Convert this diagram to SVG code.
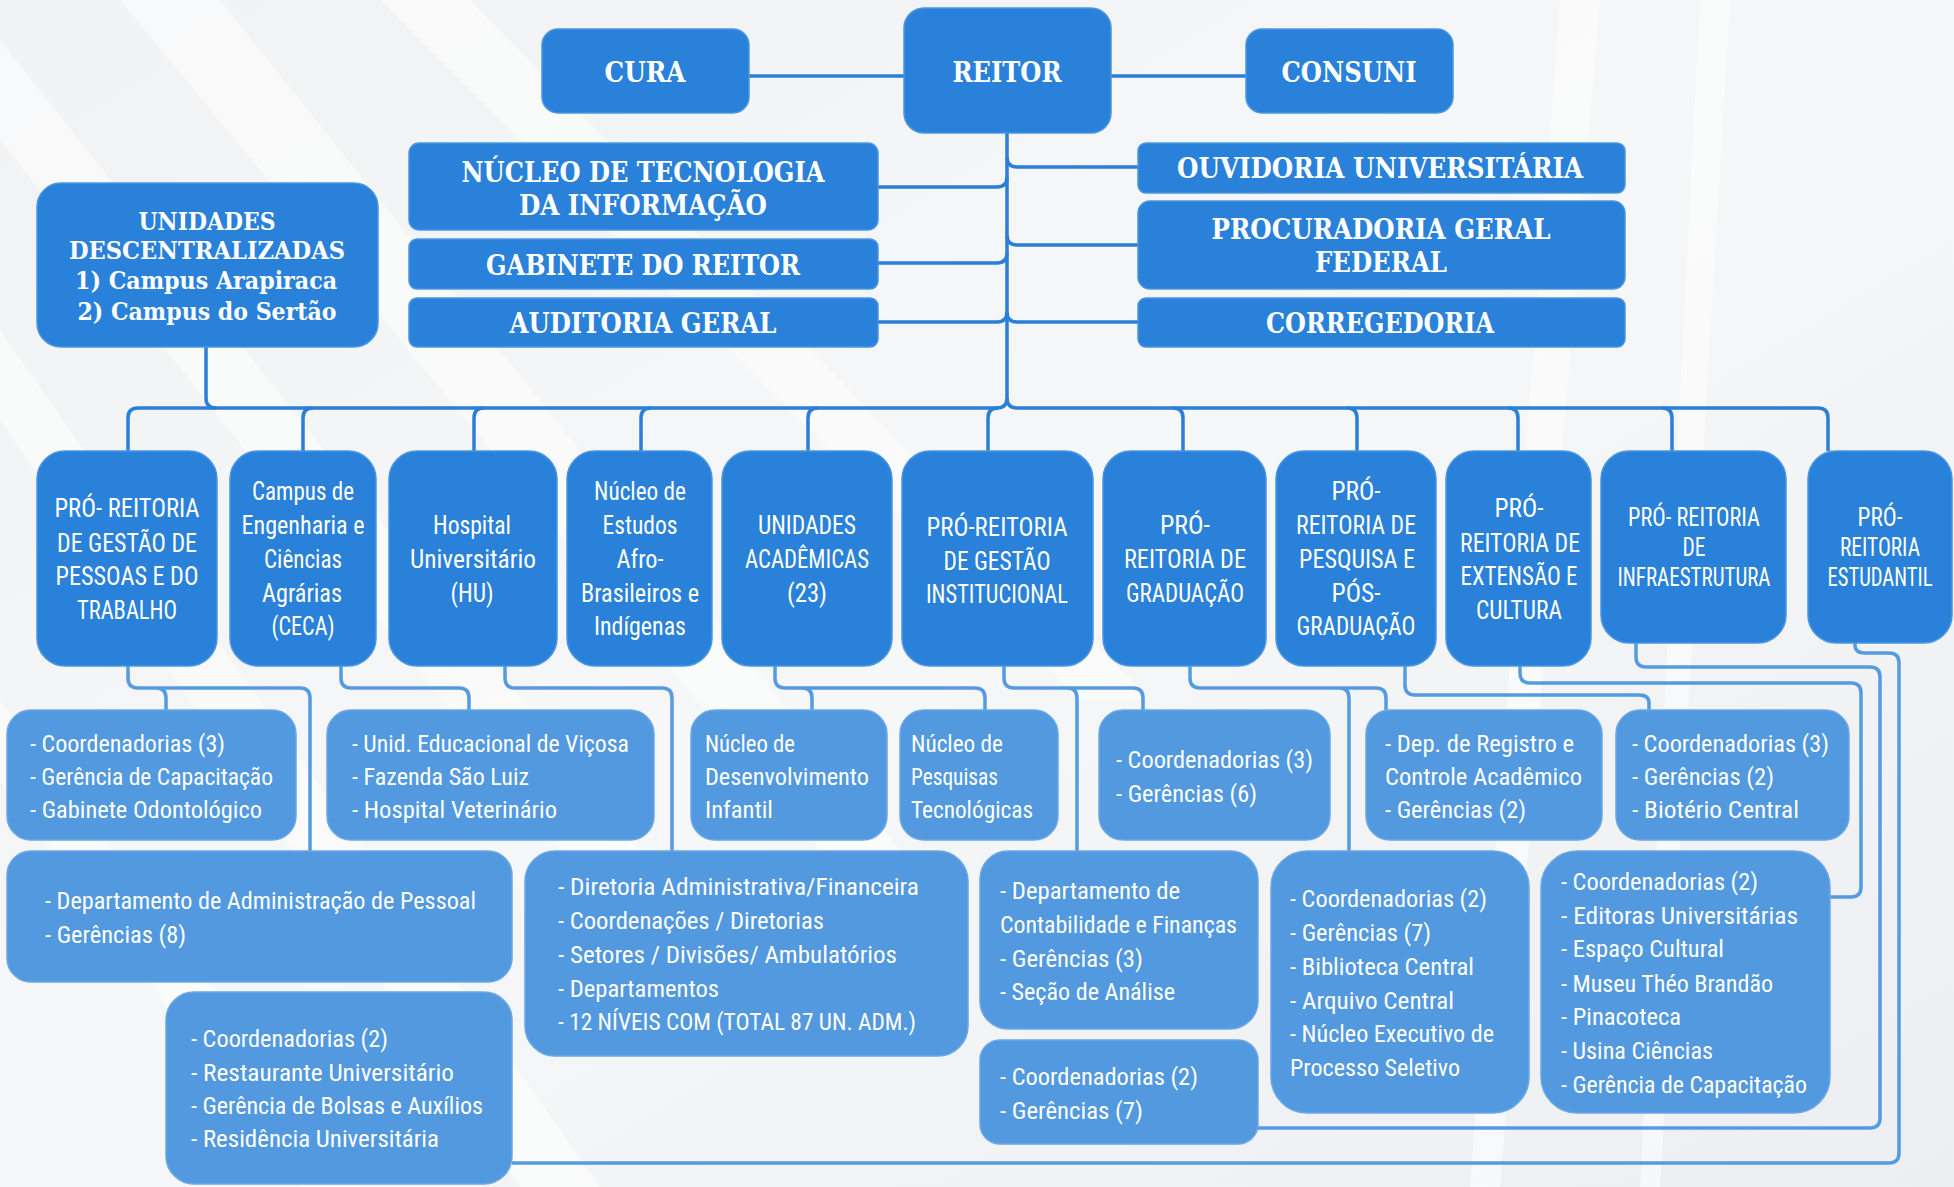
<svg xmlns="http://www.w3.org/2000/svg" width="1954" height="1187" viewBox="0 0 1954 1187">
<defs>
<linearGradient id="bg" x1="0" y1="0" x2="1" y2="1">
<stop offset="0" stop-color="#f1f2f4"/>
<stop offset="0.5" stop-color="#f6f7f8"/>
<stop offset="1" stop-color="#eceef1"/>
</linearGradient>
<style>
.d{fill:#2a81d9;stroke:#4a96e2;stroke-width:1.5}
.l{fill:#5299e0;stroke:#6aa8e6;stroke-width:1.5}
.c1{fill:none;stroke:#2a7fd6;stroke-width:3.5;stroke-linejoin:round}
.c2{fill:none;stroke:#549be1;stroke-width:3.5;stroke-linejoin:round}
.t{font-family:"DejaVu Serif Condensed","DejaVu Serif","Liberation Serif",serif;font-weight:bold;font-size:28px;fill:#fff;text-anchor:middle}
.t2{font-family:"DejaVu Serif Condensed","DejaVu Serif","Liberation Serif",serif;font-weight:bold;font-size:25px;fill:#fff;text-anchor:middle}
.s{font-family:"Roboto Condensed","DejaVu Sans Condensed","Liberation Sans Narrow",sans-serif;font-size:25px;fill:#fff;text-anchor:middle}
.m{font-family:"Roboto Condensed","DejaVu Sans Condensed","Liberation Sans Narrow",sans-serif;font-size:24px;fill:#fff}
</style>
</defs>
<rect width="1954" height="1187" fill="url(#bg)"/>
<g fill="#ffffff" opacity="0.55">
<polygon points="0,40 0,140 600,900 680,900"/>
<polygon points="0,330 0,420 520,1187 600,1187"/>
<polygon points="120,0 220,0 900,850 820,850"/>
<polygon points="380,0 470,0 1150,700 1080,700"/>
<polygon points="0,700 0,780 300,1187 360,1187"/>
<polygon points="1560,0 1600,0 1500,1187 1470,1187"/>
<polygon points="1700,0 1730,0 1660,1187 1640,1187"/>
</g>

<g id="connectors">
<path class="c1" d="M749 76H904M1111 76H1246"/>
<path class="c1" d="M1007 133V398Q1007 408 997 408H138Q128 408 128 418V451"/>
<path class="c1" d="M1007 398Q1007 408 1017 408H1818Q1828 408 1828 418V451"/>
<path class="c1" d="M1007 177Q1007 187 997 187H878M1007 253Q1007 263 997 263H878M1007 312Q1007 322 997 322H878"/>
<path class="c1" d="M1007 157Q1007 167 1017 167H1138M1007 235Q1007 245 1017 245H1138M1007 312Q1007 322 1017 322H1138"/>
<path class="c1" d="M206 347V398Q206 408 216 408"/>
<path class="c1" d="M313 408Q303 408 303 418V451M484 408Q474 408 474 418V451M651 408Q641 408 641 418V451M818 408Q808 408 808 418V451M998 408Q988 408 988 418V451"/>
<path class="c1" d="M1173 408Q1183 408 1183 418V451M1347 408Q1357 408 1357 418V451M1508 408Q1518 408 1518 418V451M1662 408Q1672 408 1672 418V451"/>
<path class="c2" d="M128 666V678Q128 688 138 688H300Q310 688 310 698V851M156 688Q166 688 166 698V710"/>
<path class="c2" d="M341 666V678Q341 688 351 688H459Q469 688 469 698V710"/>
<path class="c2" d="M505 666V678Q505 688 515 688H662Q672 688 672 698V851"/>
<path class="c2" d="M775 666V678Q775 688 785 688H975Q985 688 985 698V710M802 688Q812 688 812 698V710"/>
<path class="c2" d="M1004 666V678Q1004 688 1014 688H1133Q1143 688 1143 698V710M1067 688Q1077 688 1077 698V851"/>
<path class="c2" d="M1190 666V678Q1190 688 1200 688H1376Q1386 688 1386 698V710M1339 688Q1349 688 1349 698V851"/>
<path class="c2" d="M1405 666V685Q1405 695 1415 695H1639Q1649 695 1649 703V710"/>
<path class="c2" d="M1520 666V673Q1520 683 1530 683H1851Q1861 683 1861 693V887Q1861 897 1851 897H1830"/>
<path class="c2" d="M1636 643V657Q1636 667 1646 667H1870Q1880 667 1880 677V1118Q1880 1128 1870 1128H1258"/>
<path class="c2" d="M1855 643V645Q1855 653 1865 653H1889Q1899 653 1899 663V1153Q1899 1163 1889 1163H512"/>
</g>

<g id="cura"><rect class="d" x="542" y="29" width="207" height="84" rx="16"/><text class="t" x="645" y="82" textLength="81" lengthAdjust="spacingAndGlyphs">CURA</text></g>
<g id="reitor"><rect class="d" x="904" y="8" width="207" height="125" rx="20"/><text class="t" x="1007" y="82" textLength="109" lengthAdjust="spacingAndGlyphs">REITOR</text></g>
<g id="consuni"><rect class="d" x="1246" y="29" width="207" height="84" rx="16"/><text class="t" x="1349" y="82" textLength="135" lengthAdjust="spacingAndGlyphs">CONSUNI</text></g>
<g id="nti"><rect class="d" x="409" y="143" width="469" height="87" rx="10"/><text class="t" x="643" y="182" textLength="363" lengthAdjust="spacingAndGlyphs">NÚCLEO DE TECNOLOGIA</text><text class="t" x="643" y="215" textLength="248" lengthAdjust="spacingAndGlyphs">DA INFORMAÇÃO</text></g>
<g id="gabinete"><rect class="d" x="409" y="239" width="469" height="50" rx="8"/><text class="t" x="643" y="275" textLength="314" lengthAdjust="spacingAndGlyphs">GABINETE DO REITOR</text></g>
<g id="auditoria"><rect class="d" x="409" y="298" width="469" height="49" rx="8"/><text class="t" x="643" y="333" textLength="267" lengthAdjust="spacingAndGlyphs">AUDITORIA GERAL</text></g>
<g id="unidades-descentralizadas"><rect class="d" x="37" y="183" width="341" height="164" rx="24"/>
<text class="t2" x="207" y="230" textLength="137" lengthAdjust="spacingAndGlyphs">UNIDADES</text>
<text class="t2" x="207" y="259" textLength="276" lengthAdjust="spacingAndGlyphs">DESCENTRALIZADAS</text>
<text class="t2" x="206" y="289" textLength="262" lengthAdjust="spacingAndGlyphs">1) Campus Arapiraca</text>
<text class="t2" x="207" y="320" textLength="259" lengthAdjust="spacingAndGlyphs">2) Campus do Sertão</text></g>
<g id="ouvidoria"><rect class="d" x="1138" y="143" width="487" height="50" rx="8"/><text class="t" x="1380" y="178" textLength="406" lengthAdjust="spacingAndGlyphs">OUVIDORIA UNIVERSITÁRIA</text></g>
<g id="procuradoria"><rect class="d" x="1138" y="201" width="487" height="88" rx="12"/><text class="t" x="1381" y="239" textLength="339" lengthAdjust="spacingAndGlyphs">PROCURADORIA GERAL</text><text class="t" x="1381" y="272" textLength="132" lengthAdjust="spacingAndGlyphs">FEDERAL</text></g>
<g id="corregedoria"><rect class="d" x="1138" y="298" width="487" height="49" rx="8"/><text class="t" x="1380" y="333" textLength="228" lengthAdjust="spacingAndGlyphs">CORREGEDORIA</text></g>

<g id="pro-gestao-pessoas"><rect class="d" x="37" y="451" width="180" height="215" rx="28"/>
<text class="s" x="127" y="517" textLength="145" lengthAdjust="spacingAndGlyphs">PRÓ- REITORIA</text>
<text class="s" x="127" y="552" textLength="140" lengthAdjust="spacingAndGlyphs">DE GESTÃO DE</text>
<text class="s" x="127" y="585" textLength="143" lengthAdjust="spacingAndGlyphs">PESSOAS E DO</text>
<text class="s" x="127" y="619" textLength="100" lengthAdjust="spacingAndGlyphs">TRABALHO</text></g>
<g id="ceca"><rect class="d" x="230" y="451" width="146" height="215" rx="28"/>
<text class="s" x="303" y="500" textLength="102" lengthAdjust="spacingAndGlyphs">Campus de</text>
<text class="s" x="303" y="534" textLength="123" lengthAdjust="spacingAndGlyphs">Engenharia e</text>
<text class="s" x="303" y="568" textLength="78" lengthAdjust="spacingAndGlyphs">Ciências</text>
<text class="s" x="302" y="602" textLength="80" lengthAdjust="spacingAndGlyphs">Agrárias</text>
<text class="s" x="303" y="635" textLength="63" lengthAdjust="spacingAndGlyphs">(CECA)</text></g>
<g id="hospital"><rect class="d" x="389" y="451" width="168" height="215" rx="28"/>
<text class="s" x="472" y="534" textLength="78" lengthAdjust="spacingAndGlyphs">Hospital</text>
<text class="s" x="473" y="568" textLength="126" lengthAdjust="spacingAndGlyphs">Universitário</text>
<text class="s" x="472" y="602" textLength="43" lengthAdjust="spacingAndGlyphs">(HU)</text></g>
<g id="neabi"><rect class="d" x="567" y="451" width="145" height="215" rx="28"/>
<text class="s" x="640" y="500" textLength="92" lengthAdjust="spacingAndGlyphs">Núcleo de</text>
<text class="s" x="640" y="534" textLength="75" lengthAdjust="spacingAndGlyphs">Estudos</text>
<text class="s" x="640" y="568" textLength="47" lengthAdjust="spacingAndGlyphs">Afro-</text>
<text class="s" x="640" y="602" textLength="118" lengthAdjust="spacingAndGlyphs">Brasileiros e</text>
<text class="s" x="640" y="635" textLength="92" lengthAdjust="spacingAndGlyphs">Indígenas</text></g>
<g id="unidades-academicas"><rect class="d" x="722" y="451" width="170" height="215" rx="28"/>
<text class="s" x="807" y="534" textLength="98" lengthAdjust="spacingAndGlyphs">UNIDADES</text>
<text class="s" x="807" y="568" textLength="124" lengthAdjust="spacingAndGlyphs">ACADÊMICAS</text>
<text class="s" x="807" y="602" textLength="40" lengthAdjust="spacingAndGlyphs">(23)</text></g>
<g id="pro-gestao-institucional"><rect class="d" x="902" y="451" width="191" height="215" rx="28"/>
<text class="s" x="997" y="536" textLength="141" lengthAdjust="spacingAndGlyphs">PRÓ-REITORIA</text>
<text class="s" x="997" y="570" textLength="107" lengthAdjust="spacingAndGlyphs">DE GESTÃO</text>
<text class="s" x="997" y="603" textLength="142" lengthAdjust="spacingAndGlyphs">INSTITUCIONAL</text></g>
<g id="pro-graduacao"><rect class="d" x="1103" y="451" width="163" height="215" rx="28"/>
<text class="s" x="1185" y="534" textLength="50" lengthAdjust="spacingAndGlyphs">PRÓ-</text>
<text class="s" x="1185" y="568" textLength="122" lengthAdjust="spacingAndGlyphs">REITORIA DE</text>
<text class="s" x="1185" y="602" textLength="118" lengthAdjust="spacingAndGlyphs">GRADUAÇÃO</text></g>
<g id="pro-pesquisa"><rect class="d" x="1276" y="451" width="160" height="215" rx="28"/>
<text class="s" x="1356" y="500" textLength="49" lengthAdjust="spacingAndGlyphs">PRÓ-</text>
<text class="s" x="1356" y="534" textLength="120" lengthAdjust="spacingAndGlyphs">REITORIA DE</text>
<text class="s" x="1357" y="568" textLength="116" lengthAdjust="spacingAndGlyphs">PESQUISA E</text>
<text class="s" x="1356" y="602" textLength="49" lengthAdjust="spacingAndGlyphs">PÓS-</text>
<text class="s" x="1356" y="635" textLength="119" lengthAdjust="spacingAndGlyphs">GRADUAÇÃO</text></g>
<g id="pro-extensao"><rect class="d" x="1446" y="451" width="145" height="215" rx="28"/>
<text class="s" x="1519" y="517" textLength="49" lengthAdjust="spacingAndGlyphs">PRÓ-</text>
<text class="s" x="1520" y="552" textLength="120" lengthAdjust="spacingAndGlyphs">REITORIA DE</text>
<text class="s" x="1519" y="585" textLength="117" lengthAdjust="spacingAndGlyphs">EXTENSÃO E</text>
<text class="s" x="1519" y="619" textLength="86" lengthAdjust="spacingAndGlyphs">CULTURA</text></g>
<g id="pro-infraestrutura"><rect class="d" x="1601" y="451" width="185" height="192" rx="28"/>
<text class="s" x="1694" y="526" textLength="132" lengthAdjust="spacingAndGlyphs">PRÓ- REITORIA</text>
<text class="s" x="1694" y="556" textLength="23" lengthAdjust="spacingAndGlyphs">DE</text>
<text class="s" x="1694" y="586" textLength="153" lengthAdjust="spacingAndGlyphs">INFRAESTRUTURA</text></g>
<g id="pro-estudantil"><rect class="d" x="1808" y="451" width="144" height="192" rx="28"/>
<text class="s" x="1880" y="526" textLength="45" lengthAdjust="spacingAndGlyphs">PRÓ-</text>
<text class="s" x="1880" y="556" textLength="80" lengthAdjust="spacingAndGlyphs">REITORIA</text>
<text class="s" x="1880" y="586" textLength="105" lengthAdjust="spacingAndGlyphs">ESTUDANTIL</text></g>

<g id="gp-coordenadorias"><rect class="l" x="7" y="710" width="289" height="130" rx="24"/>
<text class="m" x="30" y="752" textLength="195" lengthAdjust="spacingAndGlyphs">- Coordenadorias (3)</text>
<text class="m" x="30" y="785" textLength="243" lengthAdjust="spacingAndGlyphs">- Gerência de Capacitação</text>
<text class="m" x="30" y="818" textLength="232" lengthAdjust="spacingAndGlyphs">- Gabinete Odontológico</text></g>
<g id="ceca-unidades"><rect class="l" x="327" y="710" width="327" height="130" rx="24"/>
<text class="m" x="352" y="752" textLength="277" lengthAdjust="spacingAndGlyphs">- Unid. Educacional de Viçosa</text>
<text class="m" x="352" y="785" textLength="177" lengthAdjust="spacingAndGlyphs">- Fazenda São Luiz</text>
<text class="m" x="352" y="818" textLength="205" lengthAdjust="spacingAndGlyphs">- Hospital Veterinário</text></g>
<g id="ndi"><rect class="l" x="691" y="710" width="196" height="130" rx="24"/>
<text class="m" x="705" y="752" textLength="90" lengthAdjust="spacingAndGlyphs">Núcleo de</text>
<text class="m" x="705" y="785" textLength="164" lengthAdjust="spacingAndGlyphs">Desenvolvimento</text>
<text class="m" x="705" y="818" textLength="68" lengthAdjust="spacingAndGlyphs">Infantil</text></g>
<g id="npt"><rect class="l" x="900" y="710" width="158" height="130" rx="24"/>
<text class="m" x="911" y="752" textLength="92" lengthAdjust="spacingAndGlyphs">Núcleo de</text>
<text class="m" x="911" y="785" textLength="87" lengthAdjust="spacingAndGlyphs">Pesquisas</text>
<text class="m" x="911" y="818" textLength="122" lengthAdjust="spacingAndGlyphs">Tecnológicas</text></g>
<g id="gi-coordenadorias"><rect class="l" x="1099" y="710" width="231" height="130" rx="24"/>
<text class="m" x="1116" y="768" textLength="197" lengthAdjust="spacingAndGlyphs">- Coordenadorias (3)</text>
<text class="m" x="1116" y="802" textLength="141" lengthAdjust="spacingAndGlyphs">- Gerências (6)</text></g>
<g id="grad-registro"><rect class="l" x="1366" y="710" width="236" height="130" rx="24"/>
<text class="m" x="1385" y="752" textLength="189" lengthAdjust="spacingAndGlyphs">- Dep. de Registro e</text>
<text class="m" x="1385" y="785" textLength="197" lengthAdjust="spacingAndGlyphs">Controle   Acadêmico</text>
<text class="m" x="1385" y="818" textLength="141" lengthAdjust="spacingAndGlyphs">- Gerências (2)</text></g>
<g id="pesq-coordenadorias"><rect class="l" x="1616" y="710" width="233" height="130" rx="24"/>
<text class="m" x="1632" y="752" textLength="197" lengthAdjust="spacingAndGlyphs">- Coordenadorias (3)</text>
<text class="m" x="1632" y="785" textLength="142" lengthAdjust="spacingAndGlyphs">- Gerências (2)</text>
<text class="m" x="1632" y="818" textLength="167" lengthAdjust="spacingAndGlyphs">- Biotério Central</text></g>
<g id="gp-departamento"><rect class="l" x="7" y="851" width="505" height="131" rx="24"/>
<text class="m" x="45" y="909" textLength="431" lengthAdjust="spacingAndGlyphs">- Departamento de Administração de Pessoal</text>
<text class="m" x="45" y="943" textLength="141" lengthAdjust="spacingAndGlyphs">- Gerências (8)</text></g>
<g id="hu-diretoria"><rect class="l" x="525" y="851" width="443" height="205" rx="30"/>
<text class="m" x="558" y="895" textLength="361" lengthAdjust="spacingAndGlyphs">- Diretoria Administrativa/Financeira</text>
<text class="m" x="558" y="929" textLength="266" lengthAdjust="spacingAndGlyphs">- Coordenações / Diretorias</text>
<text class="m" x="558" y="963" textLength="339" lengthAdjust="spacingAndGlyphs">- Setores / Divisões/ Ambulatórios</text>
<text class="m" x="558" y="997" textLength="161" lengthAdjust="spacingAndGlyphs">- Departamentos</text>
<text class="m" x="558" y="1030" textLength="358" lengthAdjust="spacingAndGlyphs">- 12 NÍVEIS COM (TOTAL 87 UN. ADM.)</text></g>
<g id="gi-contabilidade"><rect class="l" x="980" y="851" width="278" height="178" rx="28"/>
<text class="m" x="1000" y="899" textLength="180" lengthAdjust="spacingAndGlyphs">- Departamento de</text>
<text class="m" x="1000" y="933" textLength="237" lengthAdjust="spacingAndGlyphs">Contabilidade e Finanças</text>
<text class="m" x="1000" y="967" textLength="143" lengthAdjust="spacingAndGlyphs">- Gerências (3)</text>
<text class="m" x="1000" y="1000" textLength="175" lengthAdjust="spacingAndGlyphs">- Seção de Análise</text></g>
<g id="infra-coordenadorias"><rect class="l" x="980" y="1040" width="278" height="104" rx="20"/>
<text class="m" x="1000" y="1085" textLength="198" lengthAdjust="spacingAndGlyphs">- Coordenadorias (2)</text>
<text class="m" x="1000" y="1119" textLength="143" lengthAdjust="spacingAndGlyphs">- Gerências (7)</text></g>
<g id="grad-biblioteca"><rect class="l" x="1271" y="851" width="258" height="262" rx="36"/>
<text class="m" x="1290" y="907" textLength="197" lengthAdjust="spacingAndGlyphs">- Coordenadorias (2)</text>
<text class="m" x="1290" y="941" textLength="141" lengthAdjust="spacingAndGlyphs">- Gerências (7)</text>
<text class="m" x="1290" y="975" textLength="184" lengthAdjust="spacingAndGlyphs">- Biblioteca Central</text>
<text class="m" x="1290" y="1009" textLength="164" lengthAdjust="spacingAndGlyphs">- Arquivo Central</text>
<text class="m" x="1290" y="1042" textLength="204" lengthAdjust="spacingAndGlyphs">- Núcleo Executivo de</text>
<text class="m" x="1290" y="1076" textLength="170" lengthAdjust="spacingAndGlyphs">Processo Seletivo</text></g>
<g id="ext-coordenadorias"><rect class="l" x="1541" y="851" width="289" height="262" rx="36"/>
<text class="m" x="1561" y="890" textLength="197" lengthAdjust="spacingAndGlyphs">- Coordenadorias (2)</text>
<text class="m" x="1561" y="924" textLength="237" lengthAdjust="spacingAndGlyphs">- Editoras Universitárias</text>
<text class="m" x="1561" y="957" textLength="163" lengthAdjust="spacingAndGlyphs">- Espaço Cultural</text>
<text class="m" x="1561" y="992" textLength="212" lengthAdjust="spacingAndGlyphs">- Museu Théo Brandão</text>
<text class="m" x="1561" y="1025" textLength="120" lengthAdjust="spacingAndGlyphs">- Pinacoteca</text>
<text class="m" x="1561" y="1059" textLength="152" lengthAdjust="spacingAndGlyphs">- Usina Ciências</text>
<text class="m" x="1561" y="1093" textLength="246" lengthAdjust="spacingAndGlyphs">- Gerência de Capacitação</text></g>
<g id="est-coordenadorias"><rect class="l" x="166" y="992" width="346" height="192" rx="28"/>
<text class="m" x="191" y="1047" textLength="197" lengthAdjust="spacingAndGlyphs">- Coordenadorias (2)</text>
<text class="m" x="191" y="1081" textLength="263" lengthAdjust="spacingAndGlyphs">- Restaurante Universitário</text>
<text class="m" x="191" y="1114" textLength="292" lengthAdjust="spacingAndGlyphs">- Gerência de Bolsas e Auxílios</text>
<text class="m" x="191" y="1147" textLength="248" lengthAdjust="spacingAndGlyphs">- Residência Universitária</text></g>
</svg>
